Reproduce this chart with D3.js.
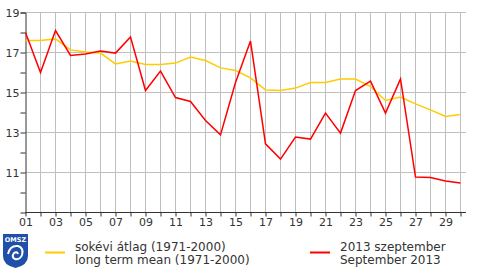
<!DOCTYPE html>
<html>
<head>
<meta charset="utf-8">
<script src="https://cdn.jsdelivr.net/npm/d3@7.9.0/dist/d3.min.js"></script>
<style>
  html, body { margin: 0; padding: 0; background: #fff; }
  svg { display: block; font-family: "DejaVu Sans", sans-serif; }
</style>
</head>
<body>
<div id="chart"></div>
<script>
const days = d3.range(1, 31);
const sept2013 = [18.0, 16.0, 18.1, 16.85, 16.93, 17.07, 16.97, 17.77, 15.1, 16.07,
  14.75, 14.55, 13.6, 12.88, 15.5, 17.57, 12.43, 11.67, 12.77, 12.67,
  13.97, 12.97, 15.1, 15.57, 13.97, 15.68, 10.77, 10.75, 10.57, 10.47];
const longMean = [17.6, 17.6, 17.68, 17.13, 17.02, 16.97, 16.43, 16.57, 16.4, 16.4,
  16.47, 16.77, 16.6, 16.23, 16.1, 15.73, 15.13, 15.1, 15.22, 15.5,
  15.5, 15.67, 15.67, 15.3, 14.6, 14.77, 14.43, 14.13, 13.8, 13.9];
const yTicks = [11, 13, 15, 17, 19];
const yMinor = [10, 12, 14, 16, 18];
const legendMean = ["sokévi átlag (1971-2000)", "long term mean (1971-2000)"];
const legendMonth = ["2013 szeptember", "September 2013"];

const width = 490, height = 272;
const plot = { left: 25.5, right: 466, top: 12.5, bottom: 212.5 };

const svg = d3.select("#chart").append("svg")
  .attr("width", width)
  .attr("height", height);

const x = d3.scaleLinear().domain([1, 30]).range([plot.left, 460.5]);
const y = d3.scaleLinear().domain([9, 19]).range([plot.bottom, plot.top]);

// gridlines
const grid = svg.append("g").attr("stroke", "#c0c0c0").attr("stroke-width", 1);
grid.selectAll("line.v")
  .data(days.slice(1))
  .join("line")
  .attr("x1", d => x(d)).attr("x2", d => x(d))
  .attr("y1", plot.top).attr("y2", plot.bottom);
grid.selectAll("line.h")
  .data(yTicks)
  .join("line")
  .attr("x1", plot.left).attr("x2", plot.right)
  .attr("y1", d => y(d)).attr("y2", d => y(d));

// axes
const yAxis = svg.append("g")
  .attr("transform", `translate(${plot.left},0)`)
  .call(d3.axisLeft(y).tickValues(yTicks).tickSize(5).tickFormat(d3.format("d")));
svg.append("g")
  .attr("transform", `translate(${plot.left},0)`)
  .call(d3.axisLeft(y).tickValues(yMinor).tickSize(5).tickFormat(""))
  .call(g => g.selectAll("line").attr("stroke", "#333"))
  .select(".domain").remove();

const xAxis = svg.append("g")
  .attr("transform", `translate(0,${plot.bottom})`)
  .call(d3.axisBottom(x).tickValues(days).tickSize(4)
    .tickSizeOuter(0)
    .tickFormat(d => d % 2 === 1 ? String(d).padStart(2, "0") : ""));
xAxis.select(".domain").attr("d", `M${plot.left},0H${plot.right}`);

[yAxis, xAxis].forEach(g => {
  g.selectAll("text").attr("fill", "#333").style("font-size", "11px")
    .style("font-family", "'DejaVu Sans', sans-serif");
  g.selectAll("line").attr("stroke", "#333");
  g.select(".domain").attr("stroke", "#333");
});
yAxis.selectAll("text").attr("x", -6);
xAxis.selectAll("text").attr("y", 6);

// lines
const line = (vals) => d3.line()
  .x((d, i) => x(days[i]))
  .y(d => y(d))(vals);

svg.append("path")
  .attr("d", line(longMean))
  .attr("fill", "none")
  .attr("stroke", "#ffcc00")
  .attr("stroke-width", 1.5);

svg.append("path")
  .attr("d", line(sept2013))
  .attr("fill", "none")
  .attr("stroke", "#ff0000")
  .attr("stroke-width", 1.5);

// logo
const logo = svg.append("g").attr("transform", "translate(3,234)");
logo.append("path")
  .attr("d", "M0,0H25V22Q25,31 12.5,34Q0,31 0,22Z")
  .attr("fill", "#1f4fa8");
logo.append("text")
  .attr("x", 12.5).attr("y", 7.5)
  .attr("text-anchor", "middle")
  .attr("fill", "#fff")
  .style("font-size", "6.5px")
  .style("font-weight", "bold")
  .text("OMSZ");
logo.append("path")
  .attr("d", "M5,20Q7,11 15,12Q21,14 19,21Q17,26 12,25Q8,23 11,19Q14,17 15,20")
  .attr("fill", "none")
  .attr("stroke", "#fff")
  .attr("stroke-width", 2);

// legend
const legend = [
  { x: 45, color: "#ffcc00", lines: legendMean },
  { x: 310, color: "#ff0000", lines: legendMonth }
];
legend.forEach(item => {
  const g = svg.append("g");
  g.append("line")
    .attr("x1", item.x).attr("x2", item.x + 20)
    .attr("y1", 252.5).attr("y2", 252.5)
    .attr("stroke", item.color).attr("stroke-width", 2);
  g.selectAll("text")
    .data(item.lines)
    .join("text")
    .attr("x", item.x + 30)
    .attr("y", (d, i) => 250.5 + i * 13.5)
    .attr("fill", "#333")
    .style("font-size", "12px")
    .text(d => d);
});
</script>
</body>
</html>
